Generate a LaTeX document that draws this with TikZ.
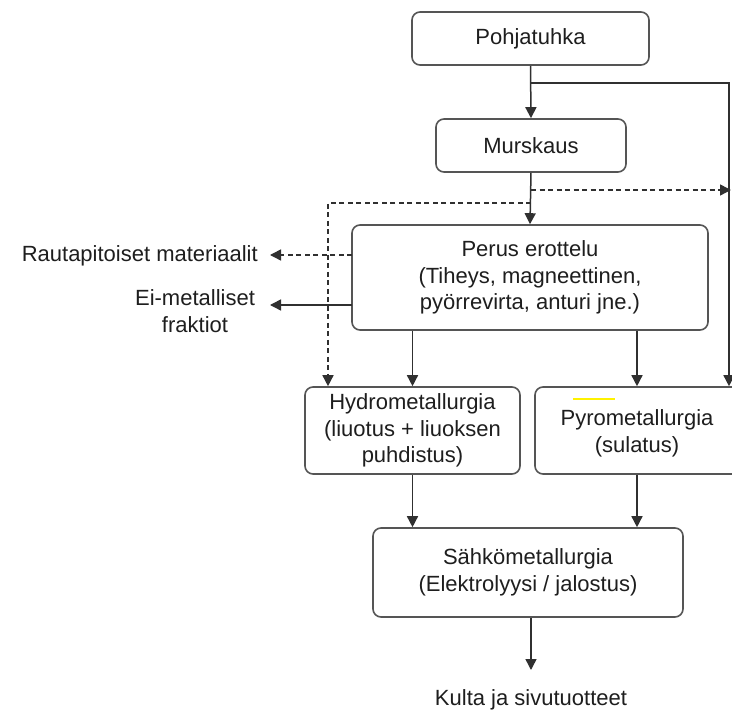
\documentclass[tikz,border=0pt]{standalone}
\usepackage{fontspec}
\setmainfont{Liberation Sans}
\usetikzlibrary{arrows.meta}
\definecolor{boxline}{HTML}{555555}
\definecolor{arrline}{HTML}{303030}
\definecolor{txt}{HTML}{1E1E1E}
\tikzset{
  box/.style={draw=boxline, line width=1.6pt, rounded corners=8pt, fill=white, align=center, text=txt, inner sep=0pt},
  lbl/.style={align=center, text=txt, inner sep=0pt},
  arr/.style={draw=arrline, line width=1.5pt, -{Triangle[width=11pt,length=11pt]}},
  darr/.style={arr, dash pattern=on 5pt off 3.5pt},
}
\begin{document}
\begin{tikzpicture}[x=1pt,y=-1pt, font=\fontsize{22}{26.5}\selectfont]
\useasboundingbox[fill=white] (0,0) rectangle (732,711);
\node[box, minimum width=237pt, minimum height=53pt] (pohja) at (530.5,38.5) {Pohjatuhka};
\node[box, minimum width=190pt, minimum height=53pt] (murs) at (531,145.5) {Murskaus};
\node[box, minimum width=356pt, minimum height=105pt] (perus) at (530,277.5) {Perus erottelu\\(Tiheys, magneettinen,\\pyörrevirta, anturi jne.)};
\node[box, minimum width=215pt, minimum height=87pt] (hydro) at (412.5,430.5) {Hydrometallurgia\\(liuotus + liuoksen\\puhdistus)};
\node[box, minimum width=210pt, minimum height=87pt, text height=0pt] (pyro) at (640,430.5) {};
\node[lbl] (pyrotxt) at (637,433.5) {Pyrometallurgia\\(sulatus)};
\node[box, minimum width=310pt, minimum height=89pt] (sahko) at (528,572.5) {Sähkömetallurgia\\(Elektrolyysi / jalostus)};
\node[lbl] (kulta) at (531,700) {Kulta ja sivutuotteet};
\node[lbl, anchor=east] (rauta) at (258,256) {Rautapitoiset materiaalit};
\node[lbl] (eimet) at (195,311) {Ei-metalliset\\fraktiot};
\draw[yellow, line width=2pt] (573,399) -- (615,399);
% coordinates
\coordinate (b1) at (531,83);
\coordinate (r1) at (729,83);
\coordinate (b2) at (531,190);
\coordinate (r2) at (731,190);
\coordinate (b3) at (531,203);
\coordinate (l3) at (328,203);
\coordinate (pl1) at (352,255);
\coordinate (pl2) at (352,305);
\coordinate (t1) at (270,255);
\coordinate (t2) at (270,305);
\coordinate (px) at (637,0);
\coordinate (ke) at (531,670);
% connectors
\draw[arr] (pohja.south) -- (murs.north);
\draw[arr] (b1) -- (r1) -- (r1 |- pyro.north);
\draw[arr] (murs.south) -- (perus.north);
\draw[darr] (b2) -- (r2);
\draw[darr] (b3) -- (l3) -- (l3 |- hydro.north);
\draw[darr] (pl1) -- (t1);
\draw[arr] (pl2) -- (t2);
\draw[arr] (hydro.north |- perus.south) -- (hydro.north);
\draw[arr] (px |- perus.south) -- (px |- pyro.north);
\draw[arr] (hydro.south) -- (hydro.south |- sahko.north);
\draw[arr] (px |- pyro.south) -- (px |- sahko.north);
\draw[arr] (sahko.south -| ke) -- (ke);
\end{tikzpicture}
\end{document}
